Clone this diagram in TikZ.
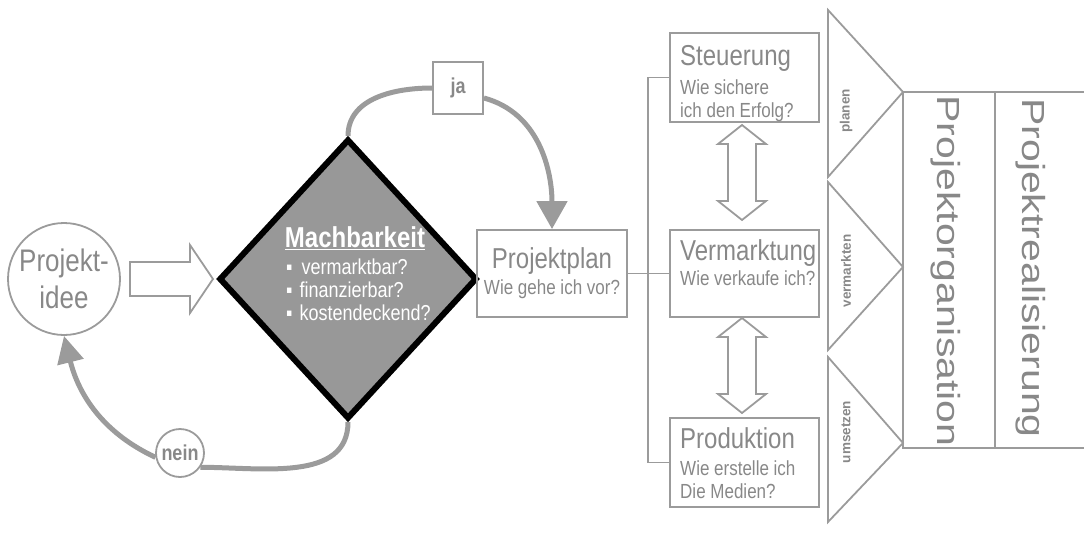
\documentclass[tikz,border=0pt]{standalone}
\usepackage{fontspec}
\setmainfont{Liberation Sans}
\usepackage{graphicx}
\usepackage{tikz}
\tikzset{>=latex}
\usetikzlibrary{shapes.geometric, arrows.meta, positioning}
\definecolor{linegray}{RGB}{155,155,155}
\definecolor{textgray}{RGB}{136,136,136}
\definecolor{diagray}{RGB}{152,152,152}
\newcommand*{\Vst}[1]{\scalebox{1}[1.2]{#1}}
\newcommand*{\Sq}[1]{\scalebox{1}[0.78]{#1}}
\tikzset{
    box/.style={draw=linegray, line width=1.8pt, inner sep=0pt},
    thinline/.style={draw=linegray, line width=1.8pt},
    conn/.style={draw=linegray, line width=5pt},
    lbl/.style={text=textgray, inner sep=0pt},
}

\begin{document}
\begin{tikzpicture}[x=1pt, y=-1pt]
    \useasboundingbox(0, 0)rectangle(1084, 533);
    % Idee und Machbarkeit
    \node[circle, box, lbl, minimum size=112pt, align=center, font=\fontsize{26}{31}\selectfont](idee)at(64, 279){\Vst{Projekt-}\\[6pt]\Vst{idee}};
    \draw[thinline](130, 262)--(190, 262)--(190, 245)--(213, 279)--(190, 313)--(190, 296)--(130, 296)--cycle;
    \node[diamond, draw=black, line width=6pt, fill=diagray, minimum width=258pt, minimum height=280pt, inner sep=0pt](mach)at(348, 279){};
    \node[text=white, inner sep=0pt, anchor=base, font=\bfseries\fontsize{24}{24}\selectfont](machhead)at(355, 247){\Vst{\underline{Machbarkeit}}};
    \node[text=white, inner sep=0pt, anchor=base west, align=left, font=\fontsize{18}{23}\selectfont](machlist)at(286, 320){\Vst{▪\hspace{9pt}vermarktbar?}\\\Vst{▪\hspace{7pt}finanzierbar?}\\\Vst{▪\hspace{7pt}kostendeckend?}};
    % ja / nein
    \node[box, lbl, minimum width=50pt, minimum height=52pt, font=\bfseries\fontsize{18}{18}\selectfont](ja)at(458, 88){\Vst{ja}};
    \node[circle, box, lbl, minimum size=48pt, font=\bfseries\fontsize{18}{18}\selectfont](nein)at(180, 453){\Vst{nein}};
    % Projektplan
    \node[box, lbl, minimum width=150pt, minimum height=87pt, align=center, font=\fontsize{17}{26}\selectfont](plan)at(552, 273.5){{\fontsize{24}{24}\selectfont\Vst{Projektplan}}\\\Vst{Wie gehe ich vor?}};
    \draw[conn](mach.north)to[out=90, in=180](ja.west);
    \draw[conn, -{Triangle[length=28pt, width=30pt]}]([yshift=-10pt]ja.east)to[out=-15, in=90](plan.north);
    \draw[conn](mach.south)to[out=-90, in=0](nein.-35);
    \draw[conn, -{Triangle[length=27pt, width=26pt]}](nein.190)to[out=155, in=-76](idee.south);
    % Bereiche
    \node[box, minimum width=149pt, minimum height=89pt](steu)at(744.5, 77.5){};
    \node[box, minimum width=149pt, minimum height=87pt](verm)at(744.5, 273.5){};
    \node[box, minimum width=149pt, minimum height=89pt](prod)at(744.5, 462.5){};
    \node[lbl, anchor=base west, align=left, font=\fontsize{17}{23}\selectfont](steutext)at(680, 117){{\fontsize{24}{24}\selectfont\Vst{Steuerung}}\\[6pt]\Vst{Wie sichere}\\\Vst{ich den Erfolg?}};
    \node[lbl, anchor=base west, align=left, font=\fontsize{17}{23}\selectfont](vermtext)at(680, 285){{\fontsize{24}{24}\selectfont\Vst{Vermarktung}}\\[2pt]\Vst{Wie verkaufe ich?}};
    \node[lbl, anchor=base west, align=left, font=\fontsize{17}{23}\selectfont](prodtext)at(680, 498){{\fontsize{24}{24}\selectfont\Vst{Produktion}}\\[4pt]\Vst{Wie erstelle ich}\\\Vst{Die Medien?}};
    \coordinate(fork)at(648, 273.5);
    \draw[thinline](plan.east)--(verm.west);
    \draw[thinline](steu.west)-|(fork)|-(prod.west);
    \foreach \ya/\yb in {125/220, 318/413}
        \draw[thinline](742, \ya)--(766, \ya+19)--(756, \ya+19)--(756, \yb-19)--(766, \yb-19)--(742, \yb)--(718, \yb-19)--(728, \yb-19)--(728, \ya+19)--(718, \ya+19)--cycle;
    % Phasen
    \foreach \ya/\yc/\yb/\yt/\txt in {10/92/177/111/planen, 182/267/350/271/vermarkten, 357/443/522/432/umsetzen}{
        \draw[thinline](828, \ya)--(903, \yc)--(828, \yb)--cycle;
        \node[lbl, rotate=90, font=\bfseries\fontsize{13.5}{13.5}\selectfont](\txt)at(846, \yt){\txt};
    }
    \draw[thinline](1084, 92)--(903, 92)--(903, 448)--(1084, 448);
    \draw[thinline](995, 92)--(995, 448);
    \node[lbl, rotate=-90, font=\fontsize{41}{41}\selectfont](orga)at(946, 271){\Sq{Projektorganisation}};
    \node[lbl, rotate=-90, font=\fontsize{41}{41}\selectfont](real)at(1031, 268){\Sq{Projektrealisierung}};
\end{tikzpicture}
\end{document}
